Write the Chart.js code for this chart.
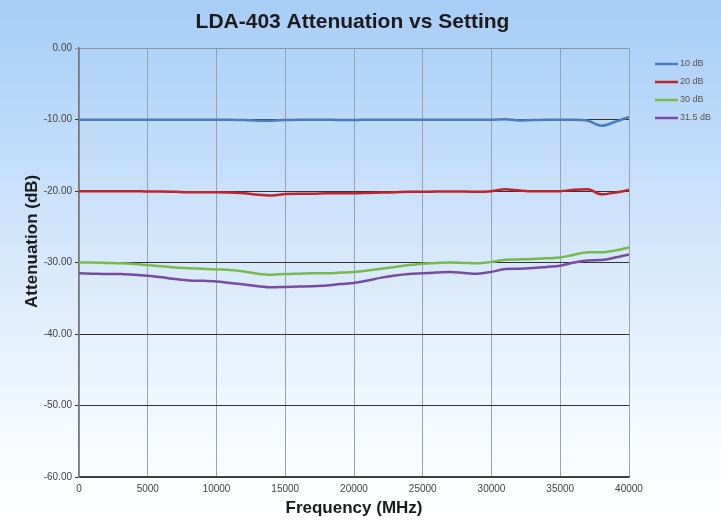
<!DOCTYPE html>
<html>
<head>
<meta charset="utf-8">
<script src="https://cdn.jsdelivr.net/npm/chart.js@4.4.0/dist/chart.umd.min.js"></script>
<style>
  html, body { margin: 0; padding: 0; background: #fff; }
  #wrap { width: 721px; height: 522px; }
</style>
</head>
<body>
<div id="wrap"><canvas id="chart" width="721" height="522"></canvas></div>
<script>
// frequency points (MHz)
var freqs = [0, 1000, 2000, 3000, 4000, 5000, 6000, 7000, 8000, 9000,
             10000, 11000, 12000, 13000, 14000, 15000, 16000, 17000, 18000, 19000,
             20000, 21000, 22000, 23000, 24000, 25000, 26000, 27000, 28000, 29000,
             30000, 31000, 32000, 33000, 34000, 35000, 36000, 37000, 38000, 39000, 40000];

var seriesNames = ['10 dB', '20 dB', '30 dB', '31.5 dB'];

var att10 = [-10.0, -10.0, -10.0, -10.0, -10.0, -10.0, -10.0, -10.0, -10.0, -10.0,
             -10.0, -10.0, -10.05, -10.15, -10.15, -10.05, -10.0, -10.0, -10.0, -10.05,
             -10.05, -10.0, -10.0, -10.0, -10.0, -10.0, -10.0, -10.0, -10.0, -10.0,
             -10.0, -9.95, -10.1, -10.05, -10.0, -10.0, -10.0, -10.15, -10.85, -10.3, -9.6];

var att20 = [-20.0, -20.0, -20.0, -20.0, -20.0, -20.05, -20.05, -20.1, -20.15, -20.15,
             -20.15, -20.2, -20.3, -20.5, -20.6, -20.4, -20.35, -20.35, -20.3, -20.3,
             -20.3, -20.25, -20.2, -20.15, -20.1, -20.1, -20.05, -20.05, -20.05, -20.1,
             -20.0, -19.75, -19.9, -20.0, -20.0, -20.0, -19.8, -19.75, -20.45, -20.2, -19.85];

var att30 = [-30.0, -30.0, -30.05, -30.1, -30.2, -30.35, -30.5, -30.7, -30.8, -30.85,
             -30.95, -31.05, -31.25, -31.55, -31.7, -31.6, -31.55, -31.5, -31.5, -31.4,
             -31.3, -31.1, -30.85, -30.6, -30.35, -30.15, -30.05, -30.0, -30.05, -30.1,
             -29.9, -29.6, -29.55, -29.5, -29.4, -29.3, -28.9, -28.55, -28.55, -28.3, -27.9];

var att315 = [-31.5, -31.55, -31.6, -31.6, -31.7, -31.85, -32.05, -32.3, -32.5, -32.55,
              -32.65, -32.85, -33.05, -33.3, -33.45, -33.4, -33.35, -33.3, -33.2, -33.0,
              -32.85, -32.5, -32.1, -31.8, -31.6, -31.5, -31.4, -31.3, -31.45, -31.55,
              -31.3, -30.9, -30.85, -30.75, -30.6, -30.45, -30.0, -29.7, -29.65, -29.3, -28.85];

var colors = ['#4a7ebb', '#c0232b', '#77bb4a', '#7a4ba6'];

function toPoints(vals) {
    return freqs.map(function (f, i) { return { x: f, y: vals[i] }; });
}

var allSeries = [att10, att20, att30, att315];
var datasets = allSeries.map(function (vals, i) {
    return {
        label: seriesNames[i],
        data: toPoints(vals),
        borderColor: colors[i],
        backgroundColor: colors[i],
        borderWidth: 2.5,
        pointRadius: 0,
        cubicInterpolationMode: 'monotone',
        fill: false
    };
});

// gradient background behind everything
var bgPlugin = {
    id: 'bg',
    beforeDraw: function (chart) {
        var ctx = chart.ctx;
        var g = ctx.createLinearGradient(0, 0, 0, chart.height);
        g.addColorStop(0, '#a7cdf6');
        g.addColorStop(0.45, '#d2e6fb');
        g.addColorStop(0.85, '#f7fbff');
        g.addColorStop(1, '#ffffff');
        ctx.save();
        ctx.fillStyle = g;
        ctx.fillRect(0, 0, chart.width, chart.height);
        ctx.restore();
    }
};

// small legend at the right, like the original
var legendPlugin = {
    id: 'sideLegend',
    afterDraw: function (chart) {
        var ctx = chart.ctx;
        ctx.save();
        ctx.font = '9px "Liberation Sans", Arial, sans-serif';
        ctx.textBaseline = 'middle';
        chart.data.datasets.forEach(function (ds, i) {
            var y = 64 + i * 18;
            ctx.strokeStyle = ds.borderColor;
            ctx.lineWidth = 2.5;
            ctx.beginPath();
            ctx.moveTo(655, y);
            ctx.lineTo(678, y);
            ctx.stroke();
            ctx.fillStyle = '#555';
            ctx.fillText(ds.label, 680, y);
        });
        ctx.restore();
    }
};

var tickFont = { family: '"Liberation Sans Narrow", "Liberation Sans", Arial, sans-serif', size: 10 };
var titleFont = { family: '"Liberation Sans", Arial, sans-serif', size: 17, weight: 'bold' };

var ctx = document.getElementById('chart').getContext('2d');
var mychart = new Chart(ctx, {
    type: 'line',
    data: { datasets: datasets },
    plugins: [bgPlugin, legendPlugin],
    options: {
        responsive: false,
        animation: false,
        layout: { padding: { left: 0, right: 16, top: 0, bottom: 0 } },
        plugins: {
            legend: { display: false },
            tooltip: { enabled: false },
            title: {
                display: true,
                text: 'LDA-403 Attenuation vs Setting',
                color: '#1b1b1b',
                font: { family: '"Liberation Sans", Arial, sans-serif', size: 21, weight: 'bold' },
                padding: { top: 10, bottom: 13 }
            }
        },
        scales: {
            x: {
                type: 'linear',
                min: 0,
                max: 40000,
                ticks: {
                    stepSize: 5000,
                    color: '#444',
                    padding: 6,
                    maxRotation: 0,
                    font: tickFont,
                    callback: function (v) { return String(v); }
                },
                grid: {
                    color: '#9aa3ad',
                    lineWidth: 1,
                    drawTicks: false
                },
                border: { color: '#444', width: 1.5 },
                title: {
                    display: true,
                    text: 'Frequency (MHz)',
                    color: '#1b1b1b',
                    font: titleFont,
                    padding: { top: 0, bottom: 3 }
                },
                afterFit: function (scale) { scale.height = 45; }
            },
            y: {
                min: -60,
                max: 0,
                ticks: {
                    stepSize: 10,
                    color: '#444',
                    padding: 3,
                    font: tickFont,
                    callback: function (v) { return v.toFixed(2); }
                },
                grid: {
                    color: function (c) { return c.tick && c.tick.value === 0 ? '#8898aa' : '#333'; },
                    lineWidth: 1,
                    tickLength: 4
                },
                border: { color: '#777', width: 1.5 },
                title: {
                    display: true,
                    // leading spaces lift the label a little above the middle, as in the original
                    text: '         Attenuation (dB)',
                    color: '#1b1b1b',
                    font: titleFont,
                    padding: { top: 22, bottom: 0 }
                },
                afterFit: function (scale) { scale.width = 79; }
            },
            // empty right-hand box: keeps room for the legend and centres the title like the original
            yRight: {
                position: 'right',
                min: -60,
                max: 0,
                ticks: { display: false },
                grid: { display: false, drawTicks: false },
                border: { display: false },
                afterFit: function (scale) { scale.width = 76; }
            }
        }
    }
});
</script>
</body>
</html>
